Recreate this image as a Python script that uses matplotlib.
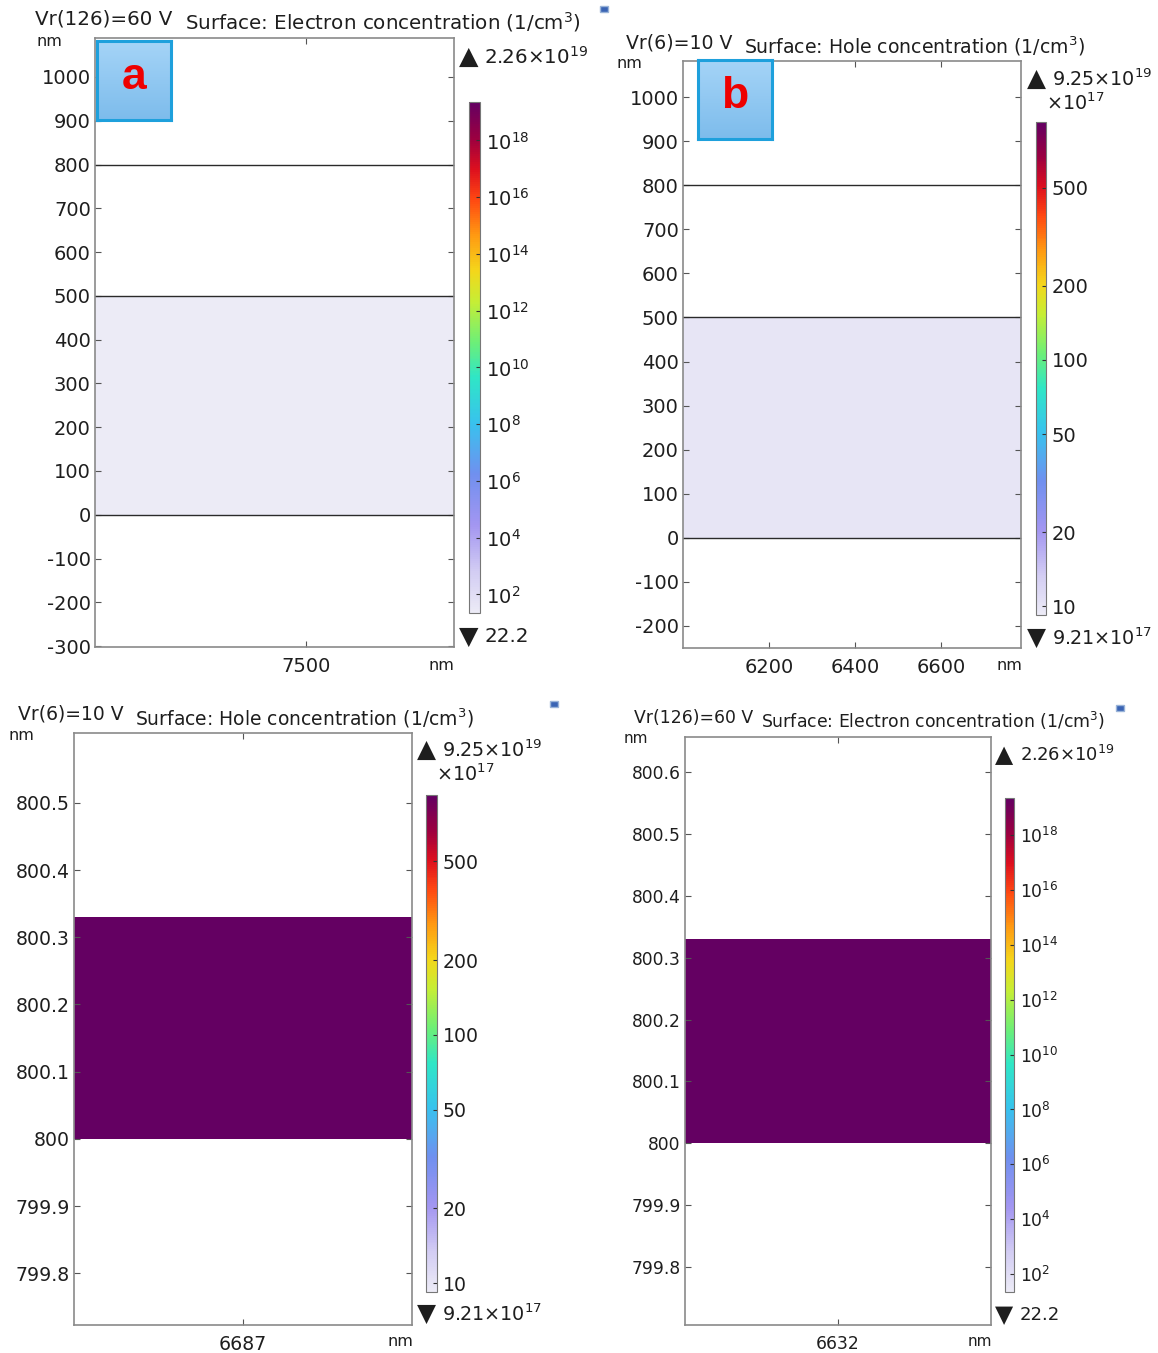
import numpy as np
import matplotlib
matplotlib.use("Agg")
import matplotlib.pyplot as plt
from matplotlib.colors import LinearSegmentedColormap, LogNorm
from matplotlib.ticker import FixedLocator, FuncFormatter, NullLocator, LogFormatterMathtext

plt.rcParams['font.family'] = ['DejaVu Sans']
plt.rcParams['axes.unicode_minus'] = False

W, H = 1158, 1353
fig = plt.figure(figsize=(W / 100, H / 100), dpi=100)

# concentration values (electrons in 1/cm^3, holes in units of 1e17 1/cm^3)
elec_min, elec_max = 22.2, 2.26e19
hole_min, hole_max = 9.21, 925.0
elec_ticks = [1e2, 1e4, 1e6, 1e8, 1e10, 1e12, 1e14, 1e16, 1e18]
hole_ticks = [10, 20, 50, 100, 200, 500]

# layer data: bottom/top of the plotted layer and its concentration
a_layer = (0.0, 500.0)
a_conc = 26.0
b_layer = (0.0, 500.0)
b_conc = 10.0
c_layer = (800.0, 800.33)
c_conc = hole_max
d_layer = (800.0, 800.33)
d_conc = elec_max

# geometry boundaries drawn as lines
ab_bounds = [0, 500, 800]

cmap = LinearSegmentedColormap.from_list('comsol_rainbow', [
    (0.00, '#ecebf6'), (0.08, '#d2ccf3'), (0.17, '#a396f1'),
    (0.27, '#7090ef'), (0.37, '#38c2ee'), (0.46, '#2fe6c6'),
    (0.53, '#6cef78'), (0.61, '#c6ee35'), (0.67, '#f4d71b'),
    (0.74, '#ff9a12'), (0.81, '#ff4812'), (0.87, '#dd0f1e'),
    (0.93, '#9c0040'), (1.00, '#640062')])

TXT = '#1e1e1e'
SPINE = '#8a8a8a'


def box(x0, y0, x1, y1):
    return [x0 / W, 1 - y1 / H, (x1 - x0) / W, (y1 - y0) / H]


def ftext(x, y, s, size=13, **kw):
    fig.text(x / W, 1 - y / H, s, fontsize=size, color=TXT, va='center', **kw)


def extreme(x, y, up, s, size):
    # colour range marker: big triangle followed by the value
    ftext(x, y, '▲' if up else '▼', size + 4)
    ftext(x + 25, y, s, size)


def panel(ax_box, cb_box, xlim, ylim, xticks, yticks, layer, conc, norm,
          cticks, cfmt, bounds, yfmt, fsize):
    ax = fig.add_axes(box(*ax_box))
    xs = np.array([xlim[0] - 1000, xlim[1] + 1000])
    ys = np.array(layer)
    ax.pcolormesh(xs, ys, np.array([[conc]]), cmap=cmap, norm=norm,
                  shading='flat')
    for b in bounds:
        ax.axhline(b, color='#2a2a2a', lw=1.0)
    ax.set_xlim(*xlim)
    ax.set_ylim(*ylim)
    ax.set_xticks(xticks)
    ax.set_yticks(yticks)
    ax.yaxis.set_major_formatter(FuncFormatter(yfmt))
    ax.xaxis.set_major_formatter(FuncFormatter(lambda v, p: f'{v:g}'))
    ax.tick_params(direction='in', length=4, width=0.8, color='#555',
                   labelsize=fsize, labelcolor=TXT, top=True, right=True, pad=3)
    ax.tick_params(axis='x', pad=7)
    for s in ax.spines.values():
        s.set_color(SPINE)
        s.set_linewidth(1.2)

    cax = fig.add_axes(box(*cb_box))
    cb = fig.colorbar(plt.cm.ScalarMappable(norm=norm, cmap=cmap), cax=cax)
    cb.outline.set_edgecolor('#777')
    cb.outline.set_linewidth(0.8)
    cax.yaxis.set_major_locator(FixedLocator(cticks))
    cax.yaxis.set_minor_locator(NullLocator())
    cax.yaxis.set_major_formatter(cfmt)
    cax.tick_params(direction='in', length=3, width=0.8, color='#333',
                    labelsize=fsize, labelcolor=TXT, pad=4)
    return ax


def fmt_int(v, p):
    return f'{v:.0f}'


def fmt_dec(v, p):
    return f'{round(v, 2):g}'


elec_norm = LogNorm(elec_min, elec_max)
hole_norm = LogNorm(hole_min, hole_max)
hole_fmt = FuncFormatter(lambda v, p: f'{v:g}')

# (a) electron concentration, overview
panel((95, 38, 454, 647), (469, 102, 480, 613), (7018, 7838), (-302, 1089),
      [7500], np.arange(-300, 1001, 100), a_layer, a_conc, elec_norm,
      elec_ticks, LogFormatterMathtext(), ab_bounds, fmt_int, 14)
ftext(35, 19, 'Vr(126)=60 V', 14.3)
ftext(185, 22, 'Surface: Electron concentration (1/cm$^3$)', 14.3)
ftext(37, 41, 'nm', 11.5)
ftext(454, 665, 'nm', 11.5, ha='right')
extreme(459, 57, True, '2.26×10$^{19}$', 14.3)
extreme(459, 637, False, '22.2', 14.3)

# (b) hole concentration, overview
panel((683, 61, 1021, 648), (1036, 122, 1046, 615), (6000, 6786), (-250, 1082),
      [6200, 6400, 6600], np.arange(-200, 1001, 100), b_layer, b_conc,
      hole_norm, hole_ticks, hole_fmt, ab_bounds, fmt_int, 14)
ftext(626, 43, 'Vr(6)=10 V', 13.6)
ftext(744, 46, 'Surface: Hole concentration (1/cm$^3$)', 13.6)
ftext(616, 63, 'nm', 11.5)
ftext(1022, 665, 'nm', 11.5, ha='right')
extreme(1027, 79, True, '9.25×10$^{19}$', 13.8)
ftext(1046, 103, '×10$^{17}$', 13.8)
extreme(1027, 638, False, '9.21×10$^{17}$', 13.8)

# (c) hole concentration, zoom at 800 nm
panel((74, 733, 412, 1325), (426, 795, 437, 1292), (6686.749, 6687.251),
      (799.723, 800.604), [6687], np.arange(799.8, 800.55, 0.1), c_layer,
      c_conc, hole_norm, hole_ticks, hole_fmt, [], fmt_dec, 13.6)
ftext(18, 714, 'Vr(6)=10 V', 13.5)
ftext(135, 718, 'Surface: Hole concentration (1/cm$^3$)', 13.5)
ftext(8, 735, 'nm', 11.5)
ftext(413, 1342, 'nm', 11.5, ha='right')
extreme(417, 750, True, '9.25×10$^{19}$', 13.8)
ftext(436, 774, '×10$^{17}$', 13.8)
extreme(417, 1314, False, '9.21×10$^{17}$', 13.8)

# (d) electron concentration, zoom at 800 nm
panel((685, 737, 991, 1325), (1005, 798, 1014, 1292), (6631.752, 6632.248),
      (799.706, 800.657), [6632], np.arange(799.8, 800.65, 0.1), d_layer,
      d_conc, elec_norm, elec_ticks, LogFormatterMathtext(), [], fmt_dec, 12.3)
ftext(634, 718, 'Vr(126)=60 V', 12.4)
ftext(761, 721, 'Surface: Electron concentration (1/cm$^3$)', 12.4)
ftext(624, 739, 'nm', 11)
ftext(992, 1342, 'nm', 11, ha='right')
extreme(995, 755, True, '2.26×10$^{19}$', 13)
extreme(995, 1315, False, '22.2', 13)

# small window icons next to the titles
for ix, iy in [(604, 9), (554, 704), (1120, 708)]:
    fig.add_artist(plt.Rectangle(((ix - 4) / W, 1 - (iy + 3) / H), 8 / W, 6 / H,
                                 transform=fig.transFigure, facecolor='#3a64b4',
                                 edgecolor='#9ab4d8', lw=1))

# panel letters
grad = np.linspace(0, 1, 64)[:, None]
lab_cmap = LinearSegmentedColormap.from_list('lab', ['#a5d4f7', '#7dbcec'])
for (x0, y0, x1, y1), letter in [((97, 41, 171, 120), 'a'),
                                 ((698, 60, 772, 139), 'b')]:
    lax = fig.add_axes(box(x0, y0, x1, y1))
    lax.imshow(grad, cmap=lab_cmap, aspect='auto', extent=(0, 1, 0, 1))
    lax.set_xticks([])
    lax.set_yticks([])
    for s in lax.spines.values():
        s.set_color('#1ea0dc')
        s.set_linewidth(2.2)
    lax.text(0.5, 0.54, letter, color='#ee0000', fontsize=32,
             fontweight='bold', ha='center', va='center',
             family=['Liberation Sans', 'DejaVu Sans'])

fig.savefig('out.png', dpi=100)
